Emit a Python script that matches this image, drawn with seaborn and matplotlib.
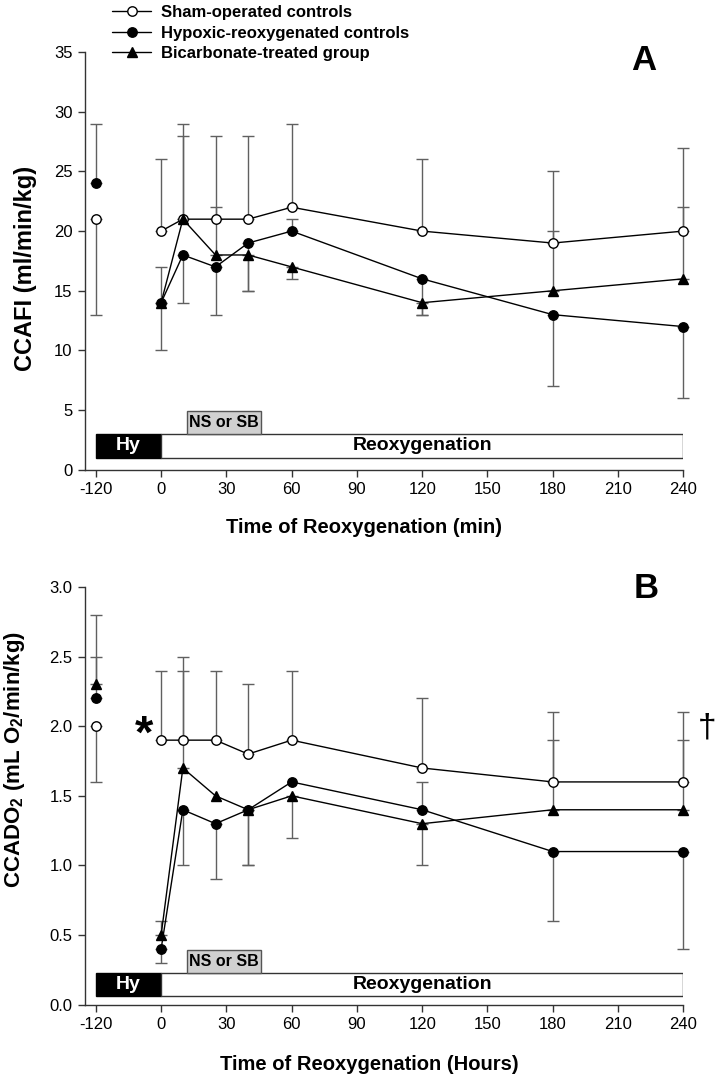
import numpy as np
import pandas as pd
import seaborn as sns
import matplotlib.pyplot as plt
from matplotlib.patches import Rectangle
from matplotlib.lines import Line2D

nan = np.nan

times = [-120, 0, 10, 25, 40, 60, 120, 180, 240]
tick_values = [-120, 0, 30, 60, 90, 120, 150, 180, 210, 240]
groups = ["Sham-operated controls", "Hypoxic-reoxygenated controls", "Bicarbonate-treated group"]

# panel A: CCAFI, signed error = direction of the one-sided bar
a_sham = [21, 20, 21, 21, 21, 22, 20, 19, 20]
a_sham_err = [-8, 6, 7, 7, 7, 7, 6, 6, 7]
a_hypo = [24, 14, 18, 17, 19, 20, 16, 13, 12]
a_hypo_err = [5, -4, -4, -4, -4, 1, -3, -6, -6]
a_bicarb = [nan, 14, 21, 18, 18, 17, 14, 15, 16]
a_bicarb_err = [nan, 3, 8, 4, -3, -1, -1, 5, 6]

# panel B: CCADO2
b_sham = [2.0, 1.9, 1.9, 1.9, 1.8, 1.9, 1.7, 1.6, 1.6]
b_sham_err = [-0.4, 0.5, 0.5, 0.5, 0.5, 0.5, 0.5, 0.5, 0.5]
b_hypo = [2.2, 0.4, 1.4, 1.3, 1.4, 1.6, 1.4, 1.1, 1.1]
b_hypo_err = [0.3, -0.1, -0.4, -0.4, -0.4, nan, 0.2, -0.5, -0.7]
b_bicarb = [2.3, 0.5, 1.7, 1.5, 1.4, 1.5, 1.3, 1.4, 1.4]
b_bicarb_err = [0.5, 0.1, 0.8, nan, -0.4, -0.3, -0.3, 0.5, 0.5]

sns.set_style("ticks")
plt.rcParams["font.family"] = ["Liberation Sans", "DejaVu Sans"]
plt.rcParams["mathtext.fontset"] = "custom"
plt.rcParams["mathtext.rm"] = "Liberation Sans"
plt.rcParams["mathtext.bf"] = "Liberation Sans:bold"
for k in ("text.color", "axes.labelcolor", "xtick.color", "ytick.color"):
    plt.rcParams[k] = "black"

marker_styles = {
    groups[0]: dict(marker="o", markerfacecolor="white", markersize=6.8),
    groups[1]: dict(marker="o", markerfacecolor="black", markersize=6.8),
    groups[2]: dict(marker="^", markerfacecolor="black", markersize=7.2),
}


def xpos(t):
    # broken axis: -120 sits one 30-min step left of 0
    t = np.asarray(t, dtype=float)
    return np.where(t == -120, -30, t)


def draw_panel(ax, series, ymax, ystep, y_bar, xlabel, ylabel, fmt, ylabel_size):
    for name, vals, errs in series:
        df = pd.DataFrame({"time": times, "value": vals, "err": errs})
        df["x"] = xpos(df["time"])
        df = df.dropna(subset=["value"])
        eb = df.dropna(subset=["err"])
        lower = np.where(eb["err"] < 0, -eb["err"], 0)
        upper = np.where(eb["err"] > 0, eb["err"], 0)
        ax.errorbar(eb["x"], eb["value"], yerr=[lower, upper], fmt="none",
                    ecolor="#606060", elinewidth=1, capsize=4, capthick=1, zorder=1)
        post = df[df["time"] >= 0]
        pre = df[df["time"] < 0]
        sty = marker_styles[name]
        sns.lineplot(data=post, x="x", y="value", ax=ax, color="black", lw=1,
                     markeredgecolor="black", markeredgewidth=1, zorder=3, **sty)
        if len(pre):
            ax.plot(pre["x"], pre["value"], ls="none", markeredgecolor="black",
                    markeredgewidth=1, zorder=3, **sty)
    for art in ax.lines + ax.collections:
        art.set_clip_on(False)

    # protocol bars
    y0, y1, y2 = y_bar
    ax.add_patch(Rectangle((-30, y0), 30, y1 - y0, facecolor="black", edgecolor="black", zorder=2))
    ax.add_patch(Rectangle((0, y0), 240, y1 - y0, facecolor="white", edgecolor="#333333", lw=1, zorder=2))
    ax.add_patch(Rectangle((12, y1), 34, y2 - y1, facecolor="#d0d0d0", edgecolor="#555555", lw=1, zorder=2))
    ax.text(-15, (y0 + y1) / 2, "Hy", color="white", fontsize=14, fontweight="bold",
            ha="center", va="center", zorder=4)
    ax.text(120, (y0 + y1) / 2, "Reoxygenation", color="black", fontsize=14, fontweight="bold",
            ha="center", va="center", zorder=4)
    ax.text(29, (y1 + y2) / 2, "NS or SB", color="black", fontsize=11.5, fontweight="bold",
            ha="center", va="center", zorder=4)

    ax.set_xlim(-35, 240)
    ax.set_ylim(0, ymax)
    ax.set_xticks(xpos(tick_values))
    ax.set_xticklabels([str(t) for t in tick_values], fontsize=12)
    yt = np.arange(0, ymax + ystep / 2, ystep)
    ax.set_yticks(yt)
    ax.set_yticklabels([fmt.format(v) for v in yt], fontsize=12)
    ax.tick_params(direction="out", length=5, width=1, color="#333333", pad=4)
    sns.despine(ax=ax)
    for s in ("left", "bottom"):
        ax.spines[s].set_linewidth(1)
        ax.spines[s].set_color("#333333")
    ax.set_xlabel(xlabel, fontsize=14.5, fontweight="bold")
    ax.set_ylabel(ylabel, fontsize=ylabel_size, fontweight="bold")


fig = plt.figure(figsize=(7.2, 10.85), dpi=100)
ax_a = fig.add_axes([0.118, 0.567, 0.831, 0.385])
ax_b = fig.add_axes([0.118, 0.074, 0.831, 0.385])

draw_panel(ax_a,
           [(groups[0], a_sham, a_sham_err), (groups[1], a_hypo, a_hypo_err),
            (groups[2], a_bicarb, a_bicarb_err)],
           35, 5, (1, 3, 4.9), "Time of Reoxygenation (min)", "CCAFI (ml/min/kg)", "{:.0f}", 17)
draw_panel(ax_b,
           [(groups[0], b_sham, b_sham_err), (groups[1], b_hypo, b_hypo_err),
            (groups[2], b_bicarb, b_bicarb_err)],
           3.0, 0.5, (0.06, 0.23, 0.39), "Time of Reoxygenation (Hours)",
           r"CCADO$\mathbf{_2}$ (mL O$\mathbf{_2}$/min/kg)", "{:.1f}", 16)

ax_a.xaxis.set_label_coords(0.467, -0.115)
ax_b.xaxis.set_label_coords(0.475, -0.12)
ax_a.yaxis.set_label_coords(-0.080, 0.483)
ax_b.yaxis.set_label_coords(-0.097, 0.586)

ax_a.text(222, 34.3, "A", fontsize=25, fontweight="bold", ha="center", va="center")
ax_b.text(223, 2.99, "B", fontsize=25, fontweight="bold", ha="center", va="center")
ax_b.text(-8, 1.93, "*", fontsize=34, fontweight="bold", ha="center", va="center")
ax_b.text(251, 1.99, "\u2020", fontsize=24, ha="center", va="center", clip_on=False)

handles = [Line2D([], [], color="black", lw=1, markeredgecolor="black",
                  **marker_styles[g]) for g in groups]
fig.legend(handles, groups, loc="upper left", bbox_to_anchor=(0.14, 1.006), frameon=False,
           prop=dict(size=12, weight="bold"), handlelength=2.3, labelspacing=0.33,
           borderpad=0.2, handletextpad=0.6)

fig.savefig("out.png", dpi=100)
